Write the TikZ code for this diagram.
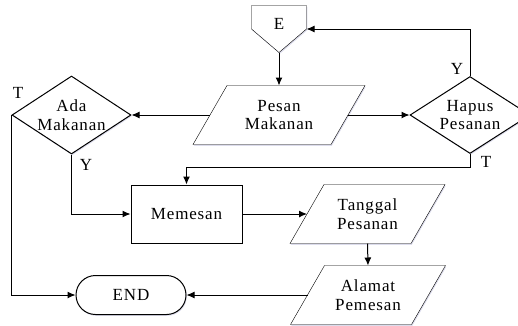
\documentclass[tikz,border=0pt]{standalone}
\usepackage{fontspec}
\setmainfont{Liberation Serif}[LetterSpace=5]
\usetikzlibrary{shapes.geometric,shapes.misc,arrows.meta,shadows,backgrounds}
\begin{document}
\begin{tikzpicture}[x=1pt,y=-1pt,
  font=\fontsize{17}{18.5}\selectfont,
  line width=1pt,
  shd/.style={drop shadow={shadow xshift=0.8pt,shadow yshift=-1.3pt,opacity=0.35,fill=blue!30!gray!60}},
  box/.style={draw,fill=white,rectangle,minimum width=111pt,minimum height=58pt,inner sep=0,shd},
  dec/.style={draw,fill=white,diamond,aspect=1.53,inner ysep=0,inner xsep=-8pt,minimum width=119pt,minimum height=78pt,align=center,shd},
  io/.style={rectangle,inner sep=0,minimum height=58pt,align=center},
  term/.style={draw,fill=white,rounded rectangle,minimum width=110pt,minimum height=39pt,inner sep=0,shd},
  arr/.style={-{Latex[length=8pt,width=7pt]}},
  lbl/.style={inner sep=0}
]
\useasboundingbox (0,0) rectangle (518,325);
\clip (0,0) rectangle (518,325);

% nodes
\node[io,minimum width=54pt,minimum height=46pt,label={[lbl,yshift=5.5pt]center:E}] (E) at (279,29) {};
\node[io,minimum width=137pt] (P) at (279,115) {Pesan\\Makanan};
\node[dec] (AM) at (71.5,115) {Ada\\Makanan};
\node[dec,minimum width=120pt,minimum height=77pt] (HP) at (470,115) {Hapus\\Pesanan};
\node[box] (M) at (186.5,214) {Memesan};
\node[io,minimum width=120pt] (T) at (367.5,214) {Tanggal\\Pesanan};
\node[io,minimum width=120pt] (A2) at (368,295) {Alamat\\Pemesan};
\node[term] (END) at (131,295) {END};

% outlines of custom shapes
\begin{scope}[on background layer]
\draw[fill=white,shd] (E.north west) -- (E.north east) -- (E.east) -- (E.south) -- (E.west) -- cycle;
\foreach \n in {P,T,A2}{
  \draw[fill=white,shd] ([xshift=17pt]\n.north west) -- ([xshift=17pt]\n.north east)
     -- ([xshift=-17pt]\n.south east) -- ([xshift=-17pt]\n.south west) -- cycle;
}
\end{scope}

% connectors
\draw[arr] (E.south) -- (P.north);
\draw[arr] (P.west) -- (AM.east);
\draw[arr] (P.east) -- (HP.west);
\draw[arr] (HP.north) |- (E.east);
\draw[arr] (HP.south) -- ++(0,13) -| (M.north);
\draw[arr] (AM.south) |- (M.west);
\draw[arr] (AM.west) |- (END.west);
\draw[arr] (M.east) -- (T.west);
\draw[arr] (T.south) -- (A2.north);
\draw[arr] (A2.west) -- (END.east);

% labels
\node[lbl] (t1) at (18,93) {T};
\node[lbl] (y1) at (86,165) {Y};
\node[lbl] (y2) at (457,69) {Y};
\node[lbl] (t2) at (486,162) {T};
\end{tikzpicture}
\end{document}
